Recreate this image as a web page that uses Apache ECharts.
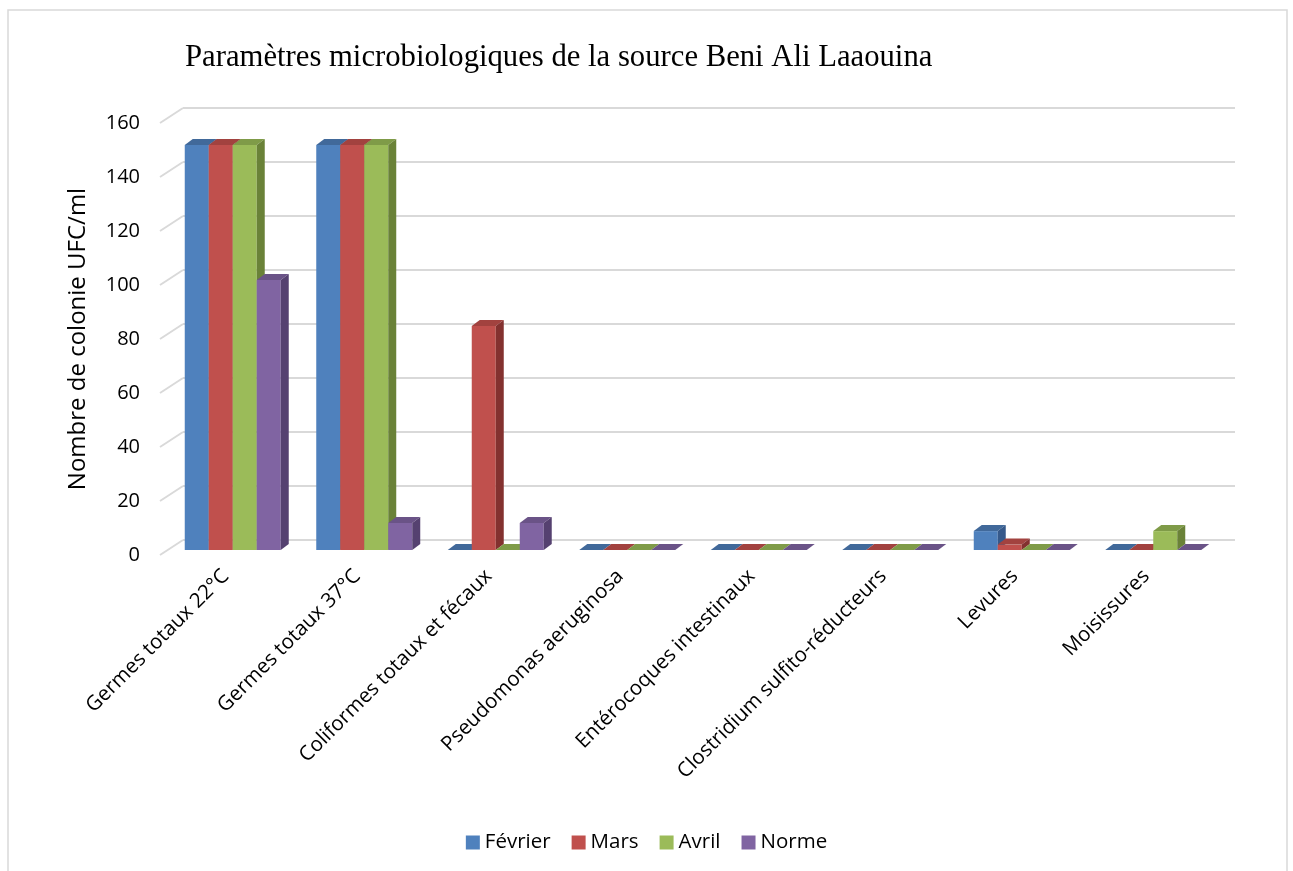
<!DOCTYPE html>
<html>
<head>
<meta charset="utf-8">
<script src="https://cdn.jsdelivr.net/npm/echarts@6/dist/echarts.min.js"></script>
<style>
  html, body { margin: 0; padding: 0; background: #fff; }
  #chart { width: 1293px; height: 871px; }
</style>
</head>
<body>
<div id="chart"></div>
<script>
// catégories et valeurs
var categories = ['Germes totaux 22°C', 'Germes totaux 37°C', 'Coliformes totaux et fécaux',
  'Pseudomonas aeruginosa', 'Entérocoques intestinaux', 'Clostridium sulfito-réducteurs',
  'Levures', 'Moisissures'];
var fevrier = [150, 150, 0, 0, 0, 0, 7, 0];
var mars = [150, 150, 83, 0, 0, 0, 2, 0];
var avril = [150, 150, 0, 0, 0, 0, 0, 7];
var norme = [100, 10, 10, 0, 0, 0, 0, 0];
var yTicks = [0, 20, 40, 60, 80, 100, 120, 140, 160];

var seriesNames = ['Février', 'Mars', 'Avril', 'Norme'];
var seriesData = [fevrier, mars, avril, norme];
var colors = ['#4F81BD', '#C0504D', '#9BBB59', '#8064A2'];
var topColors = ['#41699A', '#A2423F', '#7F9B48', '#6A5387'];
var sideColors = ['#36598A', '#83312F', '#6A8238', '#554170'];

// décalage de la profondeur (effet 3D)
var WALL_DX = 23, WALL_DY = -15;
var FRONT_DX = 7, FRONT_DY = -5;
var DEPTH_DX = 8, DEPTH_DY = -6;

var chart = echarts.init(document.getElementById('chart'));

function bar3d(idx) {
  return function (params, api) {
    var cat = api.value(0);
    var val = api.value(1);
    var band = api.size([1, 0])[0];
    var base = api.coord([cat, 0]);
    var top = api.coord([cat, val]);
    var barW = band * 0.1825;
    var x0 = base[0] - barW * 2 + idx * barW + FRONT_DX;
    var yb = base[1] + FRONT_DY;
    var yt = top[1] + FRONT_DY;
    return {
      type: 'group',
      children: [
        { type: 'rect', shape: { x: x0, y: yt, width: barW, height: yb - yt },
          style: { fill: colors[idx] } },
        { type: 'polygon', shape: { points: [[x0, yt], [x0 + barW, yt],
            [x0 + barW + DEPTH_DX, yt + DEPTH_DY], [x0 + DEPTH_DX, yt + DEPTH_DY]] },
          style: { fill: topColors[idx] } },
        { type: 'polygon', shape: { points: [[x0 + barW, yt], [x0 + barW, yb],
            [x0 + barW + DEPTH_DX, yb + DEPTH_DY], [x0 + barW + DEPTH_DX, yt + DEPTH_DY]] },
          style: { fill: sideColors[idx] } }
      ]
    };
  };
}

var series = seriesNames.map(function (name, i) {
  return {
    name: name,
    type: 'custom',
    xAxisIndex: 0,
    yAxisIndex: 0,
    z: 3 + i,
    itemStyle: { color: colors[i] },
    renderItem: bar3d(i),
    encode: { x: 0, y: 1 },
    data: seriesData[i].map(function (v, k) { return [k, v]; })
  };
});

// lignes diagonales du mur gauche
series.push({
  type: 'custom',
  xAxisIndex: 0,
  yAxisIndex: 0,
  z: 1,
  silent: true,
  encode: { x: 0, y: 1 },
  data: yTicks.map(function (v) { return [0, v]; }),
  renderItem: function (params, api) {
    var p = api.coord([0, api.value(1)]);
    var x = p[0] - api.size([1, 0])[0] / 2;
    return { type: 'line', shape: { x1: x, y1: p[1], x2: x + WALL_DX, y2: p[1] + WALL_DY },
      style: { stroke: '#D9D9D9', lineWidth: 2 } };
  }
});

var option = {
  animation: false,
  textStyle: { fontFamily: 'Open Sans' },
  title: {
    text: 'Paramètres microbiologiques de la source Beni Ali Laaouina',
    left: 180,
    top: 37,
    textStyle: { fontFamily: 'Liberation Serif', fontSize: 30.7, fontWeight: 'normal', color: '#000' }
  },
  legend: {
    data: seriesNames,
    bottom: 13,
    left: 'center',
    icon: 'rect',
    itemWidth: 14,
    itemHeight: 14,
    itemGap: 21,
    textStyle: { fontFamily: 'Open Sans', fontSize: 20.5, color: '#000' }
  },
  graphic: [{
    type: 'rect',
    shape: { x: 8, y: 10, width: 1279, height: 900 },
    style: { fill: 'none', stroke: '#D9D9D9', lineWidth: 1.5 },
    silent: true
  }],
  grid: [
    { left: 160, top: 123, width: 1052, height: 432 },
    { left: 160 + WALL_DX, top: 123 + WALL_DY, width: 1052, height: 432 }
  ],
  xAxis: [
    {
      type: 'category', gridIndex: 0, data: categories,
      axisLine: { show: false }, axisTick: { show: false },
      axisLabel: { rotate: 45, margin: 18, interval: 0, fontSize: 20.5, color: '#000', fontFamily: 'Open Sans' }
    },
    {
      type: 'category', gridIndex: 1, data: categories, show: false
    }
  ],
  yAxis: [
    {
      type: 'value', gridIndex: 0, min: 0, max: 160, interval: 20,
      name: 'Nombre de colonie UFC/ml', nameLocation: 'middle', nameGap: 70,
      nameTextStyle: { fontSize: 24, color: '#000', fontFamily: 'Open Sans' },
      axisLine: { show: false }, axisTick: { show: false }, splitLine: { show: false },
      axisLabel: { margin: 20, fontSize: 20, color: '#000', fontFamily: 'Open Sans' }
    },
    {
      type: 'value', gridIndex: 1, min: 0, max: 160, interval: 20,
      axisLine: { show: false }, axisTick: { show: false }, axisLabel: { show: false },
      splitLine: { show: true, lineStyle: { color: '#D9D9D9', width: 2 } }
    }
  ],
  series: series
};

chart.setOption(option);
</script>
</body>
</html>
